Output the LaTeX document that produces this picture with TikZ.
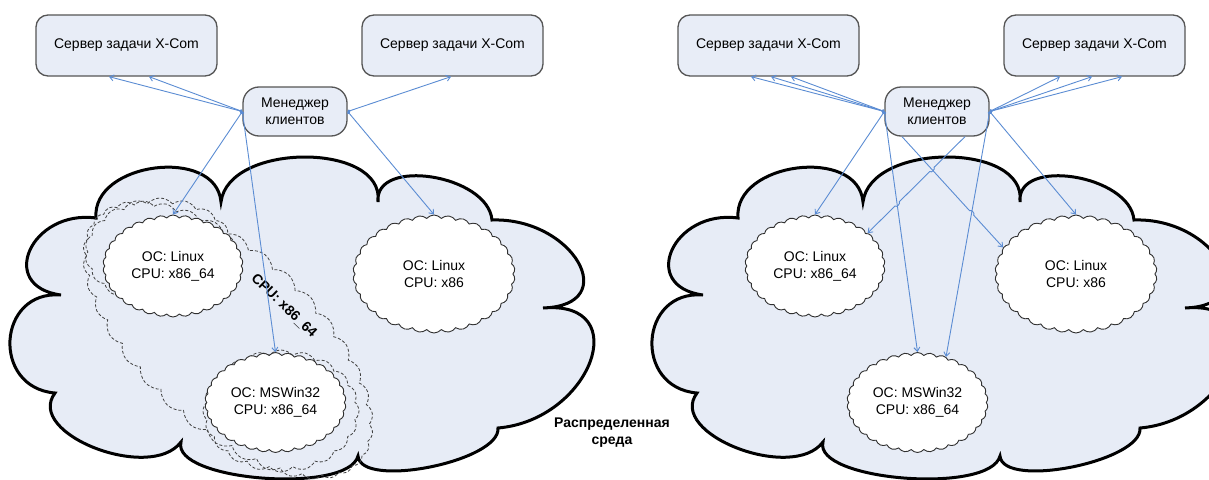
\documentclass[tikz,border=0pt]{standalone}
\usepackage{fontspec}
\setmainfont{Liberation Sans}
\usetikzlibrary{shapes.symbols,arrows.meta,calc,intersections}

\definecolor{boxfill}{HTML}{E8EDF7}
\definecolor{cloudfill}{HTML}{E7ECF6}
\definecolor{boxline}{HTML}{555555}
\definecolor{hostline}{HTML}{303030}
\definecolor{linkblue}{HTML}{5B8CD3}

\newcommand\fs{\fontsize{14}{17}\selectfont}

% outline of the large environment cloud (pixel units, y downwards)
\newcommand\envcloud{%
(96,218) .. controls (91.3,162) and (216.3,146) .. (221,202)
.. controls (228.3,142) and (385.3,142) .. (378,202)
.. controls (374,156.7) and (488,174.7) .. (492,220)
.. controls (572.7,217.3) and (623.7,305.3) .. (543,308)
.. controls (635.7,300) and (590.7,420) .. (498,428)
.. controls (500.7,461.3) and (360.7,489.3) .. (358,456)
.. controls (348,494.7) and (171,480.7) .. (181,442)
.. controls (150.3,482.7) and (24.3,433.7) .. (55,393)
.. controls (-9,387.7) and (-3,289.7) .. (61,295)
.. controls (-3.7,286.3) and (31.3,209.3) .. (96,218) -- cycle}

\tikzset{
  srvbox/.style={draw=boxline, fill=boxfill, rounded corners=12pt, line width=1.3pt,
    minimum width=181pt, minimum height=61pt, font=\fs},
  mgrbox/.style={draw=boxline, fill=boxfill, rounded corners=16pt, line width=1.3pt,
    minimum width=104pt, minimum height=49pt, align=center, font=\fs},
  host/.style={cloud, cloud puffs=34, cloud puff arc=100, cloud ignores aspect,
    draw=hostline, fill=white, line width=0.9pt, align=center, inner sep=0pt, font=\fs},
  zone/.style={cloud, cloud puff arc=100, cloud ignores aspect, draw=black!75,
    dash pattern=on 3pt off 2pt, line width=0.8pt, inner sep=0pt},
  envbox/.style={draw=black, line width=3pt, fill=cloudfill},
  conn/.style={draw=linkblue, line width=0.9pt, -{Straight Barb[length=4pt,width=6pt]}},
  dconn/.style={conn, {Circle[length=3pt]}-{Straight Barb[length=4pt,width=6pt]}},
  note/.style={font=\fs\bfseries, align=center}
}

\begin{document}
\begin{tikzpicture}[x=1pt, y=-1pt]
\useasboundingbox (0,0) rectangle (1209,479);
\clip (0,0) rectangle (1209,479);

% environment clouds
\draw[envbox] \envcloud;
\begin{scope}[xshift=642pt]
  \draw[envbox] \envcloud;
\end{scope}

% ---------- left scheme ----------
\node[srvbox] (srvA) at (126.5,45.5) {Сервер задачи X-Com};
\node[srvbox] (srvB) at (452.5,45.5) {Сервер задачи X-Com};
\node[mgrbox] (mgrA) at (295,111.5) {Менеджер\\клиентов};

% architecture groups
\node[zone, cloud puffs=36, rotate=-43, minimum width=360pt, minimum height=178pt] (grpcpu) at (228,340) {};
\node[zone, cloud puffs=18, minimum width=150pt, minimum height=108pt] (grplin) at (160,252) {};
\node[zone, cloud puffs=20, minimum width=156pt, minimum height=122pt] (grpwin) at (281,411) {};
\node[note, rotate=-44] (cpulbl) at (284,306) {CPU: x86\_64};

\node[host, minimum width=140pt, minimum height=102pt] (l64A) at (173,266) {ОС: Linux\\CPU: x86\_64};
\node[host, minimum width=162pt, minimum height=118pt] (x86A) at (434,274) {ОС: Linux\\CPU: x86};
\node[host, minimum width=141pt, minimum height=100pt] (winA) at (275.5,402.5) {ОС: MSWin32\\CPU: x86\_64};

\draw[dconn] (mgrA.west) -- ([xshift=-17.5pt]srvA.south);
\draw[dconn] (mgrA.west) -- ([xshift=22.5pt]srvA.south);
\draw[dconn] (mgrA.east) -- ([xshift=-1.5pt]srvB.south);
\draw[dconn] (mgrA.west) -- (l64A.north);
\draw[dconn] (mgrA.west) -- (winA.north);
\draw[dconn] (mgrA.east) -- (x86A.north);

\node[note] (envlbl) at (612,433) {Распределенная\\среда};

% ---------- right scheme ----------
\node[srvbox] (srvC) at (768.5,45.5) {Сервер задачи X-Com};
\node[srvbox] (srvD) at (1094.5,45.5) {Сервер задачи X-Com};
\node[mgrbox] (mgrB) at (937,111.5) {Менеджер\\клиентов};

\node[host, minimum width=140pt, minimum height=102pt] (l64B) at (815,266) {ОС: Linux\\CPU: x86\_64};
\node[host, minimum width=162pt, minimum height=118pt] (x86B) at (1076,274) {ОС: Linux\\CPU: x86};
\node[host, minimum width=141pt, minimum height=100pt] (winB) at (917.5,402.5) {ОС: MSWin32\\CPU: x86\_64};

\draw[dconn] (mgrB.west) -- ([xshift=-17.5pt]srvC.south);
\draw[dconn] (mgrB.west) -- ([xshift=2.5pt]srvC.south);
\draw[dconn] (mgrB.west) -- ([xshift=22.5pt]srvC.south);
\draw[dconn] (mgrB.east) -- ([xshift=-34.5pt]srvD.south);
\draw[dconn] (mgrB.east) -- ([xshift=-2.5pt]srvD.south);
\draw[dconn] (mgrB.east) -- ([xshift=27.5pt]srvD.south);
\draw[dconn] (mgrB.west) -- (l64B.north);
\draw[dconn, name path=toWinL] (mgrB.west) -- (winB.north);
\draw[dconn, name path=toWinR] (mgrB.east) -- (winB.58);
\draw[dconn] (mgrB.east) -- (x86B.north);

% crossing links with line hops
\coordinate (sx1) at ([xshift=28pt]mgrB.south);
\coordinate (sx2) at ([xshift=-35pt]mgrB.south);
\path[name path=crossA] (sx1) -- (l64B.32);
\path[name path=crossB] (sx2) -- (x86B.160);
\path[name intersections={of=crossA and crossB, by=hopA}];
\path[name intersections={of=crossA and toWinL, by=hopB}];
\path[name intersections={of=crossB and toWinR, by=hopC}];

\draw[conn] (sx1) -- ($(hopA)!3pt!(sx1)$) to[bend left=90] ($(hopA)!-3pt!(sx1)$)
  -- ($(hopB)!3pt!(sx1)$) to[bend left=90] ($(hopB)!-3pt!(sx1)$) -- (l64B.32);
\draw[conn] (sx2) -- ($(hopC)!3pt!(sx2)$) to[bend left=90] ($(hopC)!-3pt!(sx2)$) -- (x86B.160);
\end{tikzpicture}
\end{document}
